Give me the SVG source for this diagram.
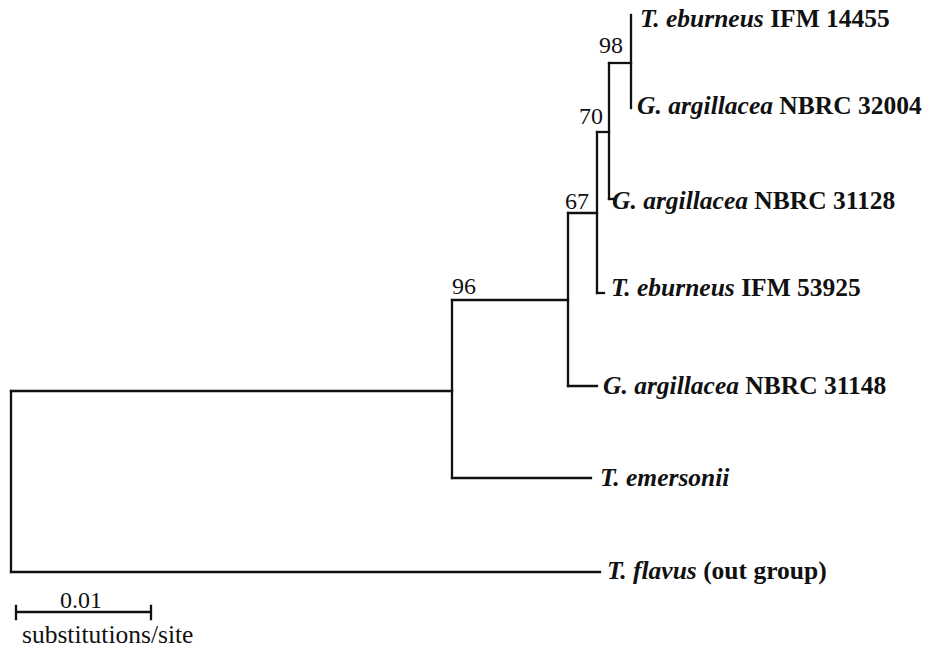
<svg xmlns="http://www.w3.org/2000/svg" width="930" height="648" viewBox="0 0 930 648">
<style>
.br{stroke:#111;stroke-width:2.3;fill:none;stroke-linecap:square}
.leaf{font-family:"Liberation Serif","Times New Roman",serif;font-weight:bold;font-size:25.5px;fill:#111}
.sp{font-style:italic}
.bs{font-family:"Liberation Serif","Times New Roman",serif;font-size:24px;fill:#111}
.unit{font-size:25.5px}
</style>
<rect width="930" height="648" fill="#fff"/>
<g id="connectors" class="br">
<path d="M11,391 V572"/>
<path d="M11,391 H452"/>
<path d="M11,572 H600"/>
<path d="M452,300 V478"/>
<path d="M452,478 H591"/>
<path d="M452,300 H568"/>
<path d="M568,213 V386"/>
<path d="M568,386 H597"/>
<path d="M568,213 H597"/>
<path d="M597,132 V293"/>
<path d="M597,293 H604"/>
<path d="M597,132 H609"/>
<path d="M609,63 V199"/>
<path d="M609,199 H613"/>
<path d="M609,63 H631"/>
<path d="M631,15 V108"/>
</g>
<g id="bootstrap">
<text class="bs" x="599" y="53">98</text>
<text class="bs" x="579" y="124">70</text>
<text class="bs" x="565" y="209">67</text>
<text class="bs" x="452" y="294">96</text>
</g>
<g id="leaf-eburneus-14455"><text class="leaf" x="640" y="27"><tspan class="sp">T. eburneus</tspan> IFM 14455</text></g>
<g id="leaf-argillacea-32004"><text class="leaf" x="637" y="114"><tspan class="sp">G. argillacea</tspan> NBRC 32004</text></g>
<g id="leaf-argillacea-31128"><text class="leaf" x="612" y="209"><tspan class="sp">G. argillacea</tspan> NBRC 31128</text></g>
<g id="leaf-eburneus-53925"><text class="leaf" x="611" y="296"><tspan class="sp">T. eburneus</tspan> IFM 53925</text></g>
<g id="leaf-argillacea-31148"><text class="leaf" x="603" y="394"><tspan class="sp">G. argillacea</tspan> NBRC 31148</text></g>
<g id="leaf-emersonii"><text class="leaf" x="600" y="486"><tspan class="sp">T. emersonii</tspan></text></g>
<g id="leaf-flavus"><text class="leaf" x="607" y="579"><tspan class="sp">T. flavus</tspan> (out group)</text></g>
<g id="scale-bar">
<path class="br" d="M16,612 H151 M16,606 V619 M151,606 V619"/>
<text class="bs" x="81" y="608" text-anchor="middle">0.01</text>
<text class="bs unit" x="22" y="643">substitutions/site</text>
</g>
</svg>
